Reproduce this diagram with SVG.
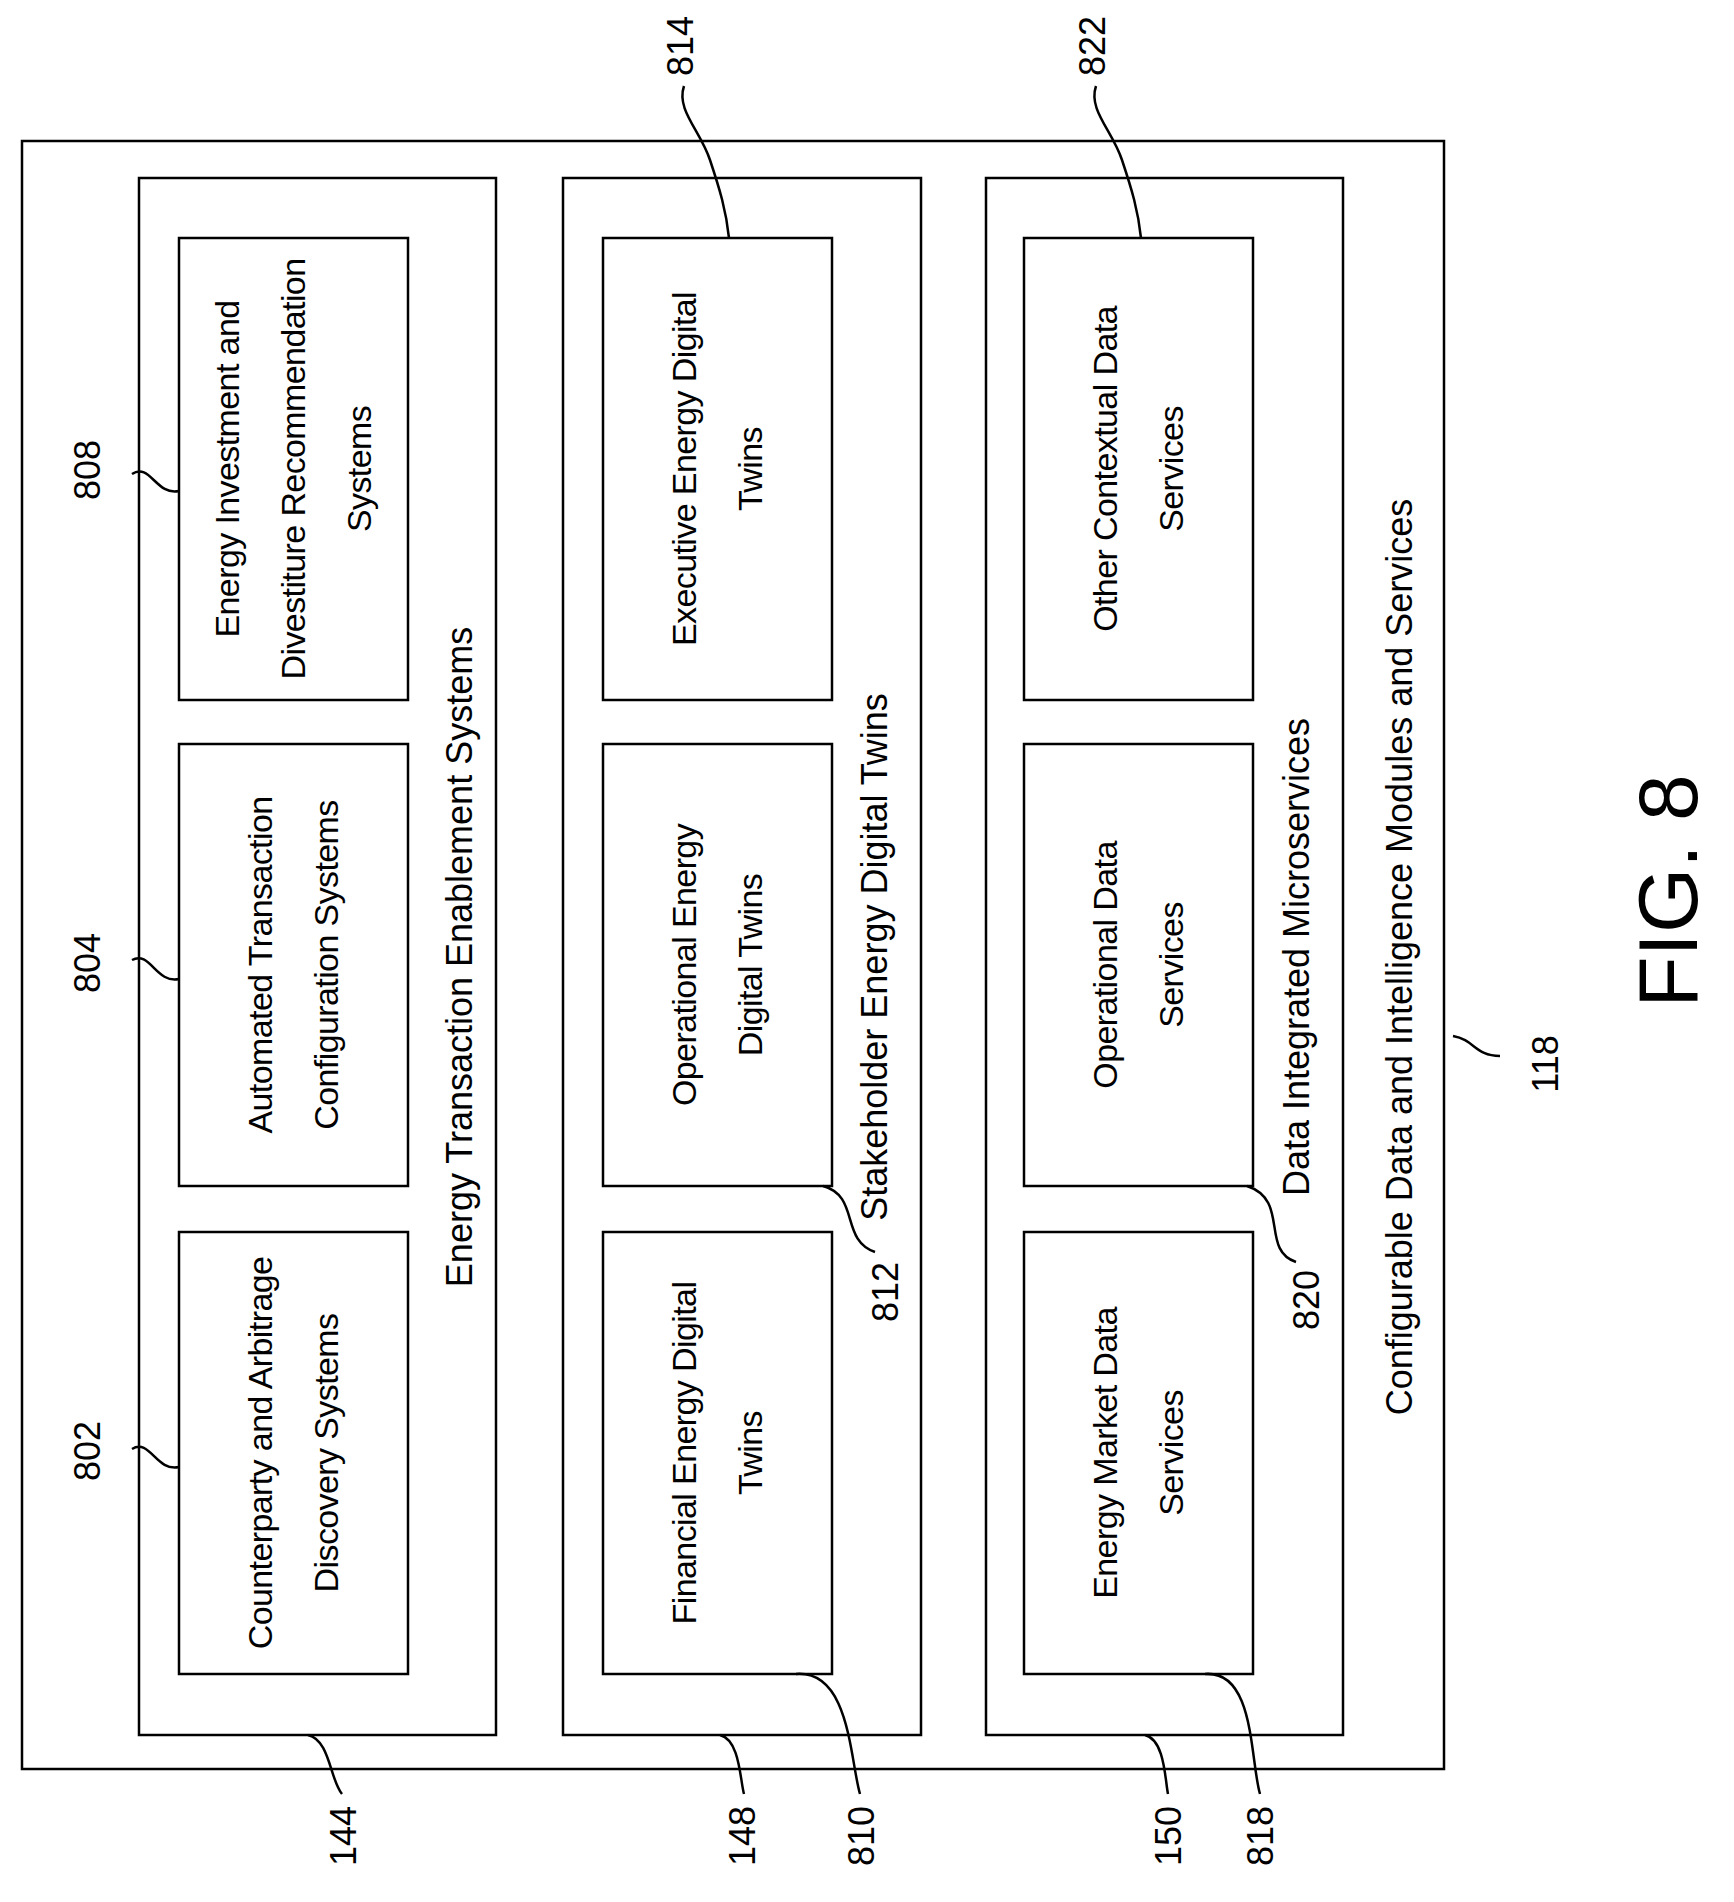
<svg xmlns="http://www.w3.org/2000/svg" width="1734" height="1902" viewBox="0 0 1734 1902">
<style>
rect{fill:none;stroke:#000;stroke-width:2.5}
path{fill:none;stroke:#000;stroke-width:2.5}
text{font-family:"Liberation Sans",Arial,sans-serif;font-size:36px;text-anchor:middle;dominant-baseline:central;fill:#000}
.b{font-size:34px;letter-spacing:-0.6px}
.f{font-size:84px}
</style>
<rect width="1734" height="1902" fill="#fff" style="fill:#fff;stroke:none"/>
<g id="n118"><rect x="22" y="141" width="1422" height="1628"/>
<text transform="translate(1399,957) rotate(-90)">Configurable Data and Intelligence Modules and Services</text></g>
<g id="n144"><rect x="139" y="178" width="357" height="1557"/>
<text transform="translate(459,957) rotate(-90)">Energy Transaction Enablement Systems</text></g>
<g id="n148"><rect x="563" y="178" width="358" height="1557"/>
<text transform="translate(874,957) rotate(-90)">Stakeholder Energy Digital Twins</text></g>
<g id="n150"><rect x="986" y="178" width="357" height="1557"/>
<text transform="translate(1296,957) rotate(-90)">Data Integrated Microservices</text></g>
<g id="n808"><rect x="179" y="238" width="229" height="462"/>
<text class="b" transform="translate(227,469) rotate(-90)">Energy Investment and</text>
<text class="b" transform="translate(293,469) rotate(-90)">Divestiture Recommendation</text>
<text class="b" transform="translate(359,469) rotate(-90)">Systems</text></g>
<g id="n804"><rect x="179" y="744" width="229" height="442"/>
<text class="b" transform="translate(260,965) rotate(-90)">Automated Transaction</text>
<text class="b" transform="translate(326,965) rotate(-90)">Configuration Systems</text></g>
<g id="n802"><rect x="179" y="1232" width="229" height="442"/>
<text class="b" transform="translate(260,1453) rotate(-90)">Counterparty and Arbitrage</text>
<text class="b" transform="translate(326,1453) rotate(-90)">Discovery Systems</text></g>
<g id="n814"><rect x="603" y="238" width="229" height="462"/>
<text class="b" transform="translate(684,469) rotate(-90)">Executive Energy Digital</text>
<text class="b" transform="translate(750,469) rotate(-90)">Twins</text></g>
<g id="n812"><rect x="603" y="744" width="229" height="442"/>
<text class="b" transform="translate(684,965) rotate(-90)">Operational Energy</text>
<text class="b" transform="translate(750,965) rotate(-90)">Digital Twins</text></g>
<g id="n810"><rect x="603" y="1232" width="229" height="442"/>
<text class="b" transform="translate(684,1453) rotate(-90)">Financial Energy Digital</text>
<text class="b" transform="translate(750,1453) rotate(-90)">Twins</text></g>
<g id="n822"><rect x="1024" y="238" width="229" height="462"/>
<text class="b" transform="translate(1105,469) rotate(-90)">Other Contextual Data</text>
<text class="b" transform="translate(1171,469) rotate(-90)">Services</text></g>
<g id="n820"><rect x="1024" y="744" width="229" height="442"/>
<text class="b" transform="translate(1105,965) rotate(-90)">Operational Data</text>
<text class="b" transform="translate(1171,965) rotate(-90)">Services</text></g>
<g id="n818"><rect x="1024" y="1232" width="229" height="442"/>
<text class="b" transform="translate(1105,1453) rotate(-90)">Energy Market Data</text>
<text class="b" transform="translate(1171,1453) rotate(-90)">Services</text></g>
<g id="labels">
<text transform="translate(87,470) rotate(-90)">808</text>
<text transform="translate(87,963) rotate(-90)">804</text>
<text transform="translate(87,1451) rotate(-90)">802</text>
<text transform="translate(680,46) rotate(-90)">814</text>
<text transform="translate(1092,46) rotate(-90)">822</text>
<text transform="translate(885,1292) rotate(-90)">812</text>
<text transform="translate(1306,1300) rotate(-90)">820</text>
<text transform="translate(1545,1064) rotate(-90)">118</text>
<text transform="translate(343,1836) rotate(-90)">144</text>
<text transform="translate(742,1836) rotate(-90)">148</text>
<text transform="translate(861,1836) rotate(-90)">810</text>
<text transform="translate(1168,1836) rotate(-90)">150</text>
<text transform="translate(1260,1836) rotate(-90)">818</text>
<text class="f" transform="translate(1668,891) rotate(-90)">FIG. 8</text>
</g>
<g id="connectors">
<path d="M132,474 C150,462 156,496 179,491"/>
<path d="M132,960 C150,950 156,984 179,979"/>
<path d="M132,1449 C150,1438 156,1472 179,1467"/>
<path d="M684,86 C676,110 700,130 710,160 C720,190 726,210 729,238"/>
<path d="M1096,86 C1088,110 1112,130 1122,160 C1132,190 1138,210 1141,238"/>
<path d="M823,1186 C860,1196 840,1240 875,1252"/>
<path d="M1247,1186 C1290,1200 1260,1250 1296,1262"/>
<path d="M1453,1036 C1475,1040 1475,1056 1500,1056"/>
<path d="M308,1735 C330,1740 330,1780 342,1794"/>
<path d="M720,1735 C740,1740 740,1780 744,1794"/>
<path d="M796,1674 C850,1670 850,1760 860,1794"/>
<path d="M1145,1735 C1165,1740 1165,1780 1168,1794"/>
<path d="M1205,1674 C1255,1670 1250,1760 1260,1794"/>
</g>
</svg>
